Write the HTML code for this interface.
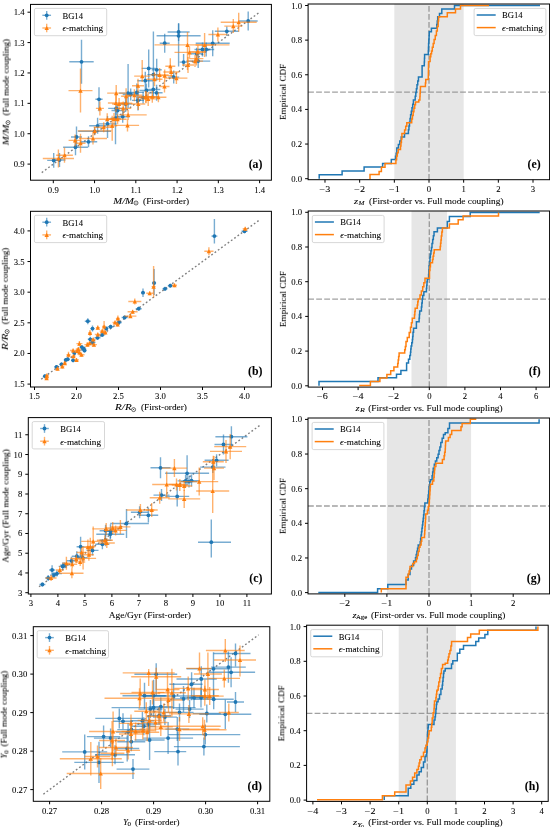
<!DOCTYPE html><html><head><meta charset="utf-8"><style>html,body{margin:0;padding:0;background:#fff;}svg{display:block;filter:blur(0.3px);}text:not([transform]){will-change:opacity;}text{stroke:#000;stroke-width:0.07px;}text[transform]{filter:url(#gs);}</style></head><body>
<svg width="550" height="827" viewBox="0 0 550 827" font-family='"Liberation Serif", serif' font-size="8.7">
<rect width="550" height="827" fill="#fff"/>
<filter id="gs" x="-20%" y="-20%" width="140%" height="140%"><feOffset dx="0" dy="0"/></filter>
<clipPath id="cpa"><rect x="30.5" y="4.4" width="240.9" height="175.8"/></clipPath>
<g clip-path="url(#cpa)">
<path d="M41.75 172.61L259.6 12.2" stroke="#808080" stroke-width="1.4" stroke-dasharray="1.8 2.25" fill="none"/>
<g stroke="#1f77b4" stroke-opacity="0.6" stroke-width="1.4" fill="none"><path d="M47.2 160.4h13"/><path d="M53.7 153.1v14.6"/><path d="M53.5 160h12"/><path d="M59.5 153v14"/><path d="M63.1 147.2h24.8"/><path d="M75.5 139.2v16"/><path d="M71 137h11"/><path d="M76.5 126.5v21"/><path d="M79.8 141.8h17.4"/><path d="M88.5 136.3v11"/><path d="M89.2 125.8h16.8"/><path d="M97.6 117.8v16"/><path d="M98.5 123.9h18"/><path d="M107.5 115.9v22"/><path d="M110.5 118.2h10"/><path d="M115.5 107.2v37"/><path d="M95.4 99.3h7.2"/><path d="M99 87.3v24"/><path d="M108.2 108.4h16"/><path d="M116.2 101.4v14"/><path d="M111.5 110.5h12"/><path d="M117.5 104.5v12"/><path d="M115.7 116.7h14"/><path d="M122.7 110.7v12"/><path d="M119.6 104h12"/><path d="M125.6 96v16"/><path d="M119.1 93.1h18"/><path d="M128.1 64.1v44"/><path d="M122.7 94.5h16"/><path d="M130.7 88.5v12"/><path d="M129.8 92.4h14"/><path d="M136.8 83.4v18"/><path d="M132 100.4h12"/><path d="M138 90.4v20"/><path d="M137.3 80.7h16"/><path d="M145.3 71.7v18"/><path d="M139.4 90.5h14"/><path d="M146.4 83.5v14"/><path d="M146.3 89.5h14"/><path d="M153.3 81.5v16"/><path d="M150.6 92.8h12"/><path d="M156.6 84.8v16"/><path d="M138.1 97.5h10"/><path d="M143.1 91.5v12"/><path d="M141.7 68.4h14"/><path d="M148.7 49.4v38"/><path d="M151.7 69.8h10"/><path d="M156.7 58.8v22"/><path d="M147.4 74.6h12"/><path d="M153.4 31.6v49"/><path d="M159.7 43.2h10"/><path d="M164.7 33.7v19"/><path d="M168.2 77.1h11"/><path d="M173.7 70.6v13"/><path d="M179.6 62.1h8"/><path d="M183.6 54.1v12.5"/><path d="M186.2 61.1h24"/><path d="M198.2 54.1v14"/><path d="M194.5 49.5h16"/><path d="M202.5 42.5v14"/><path d="M198.2 49.5h16"/><path d="M206.2 42.5v14"/><path d="M195.7 43.3h34"/><path d="M212.7 30.3v26"/><path d="M190.7 53.8h12"/><path d="M196.7 47.8v12"/><path d="M214.8 31.3h24"/><path d="M226.8 26.6v9.4"/><path d="M238.7 21h19"/><path d="M248.2 11.5v19"/><path d="M69.3 61.8h24.4"/><path d="M81.5 39.8v44"/><path d="M78.2 131.3h32.8"/><path d="M94.6 127.3v8"/><path d="M167.6 32h22"/><path d="M178.6 23v18"/><path d="M156.6 35.8h44"/><path d="M178.6 23.8v42.7"/></g>
<g fill="#1f77b4"><circle cx="53.7" cy="160.4" r="1.9"/><circle cx="59.5" cy="160" r="1.9"/><circle cx="75.5" cy="147.2" r="1.9"/><circle cx="76.5" cy="137" r="1.9"/><circle cx="88.5" cy="141.8" r="1.9"/><circle cx="97.6" cy="125.8" r="1.9"/><circle cx="107.5" cy="123.9" r="1.9"/><circle cx="115.5" cy="118.2" r="1.9"/><circle cx="99" cy="99.3" r="1.9"/><circle cx="116.2" cy="108.4" r="1.9"/><circle cx="117.5" cy="110.5" r="1.9"/><circle cx="122.7" cy="116.7" r="1.9"/><circle cx="125.6" cy="104" r="1.9"/><circle cx="128.1" cy="93.1" r="1.9"/><circle cx="130.7" cy="94.5" r="1.9"/><circle cx="136.8" cy="92.4" r="1.9"/><circle cx="138" cy="100.4" r="1.9"/><circle cx="145.3" cy="80.7" r="1.9"/><circle cx="146.4" cy="90.5" r="1.9"/><circle cx="153.3" cy="89.5" r="1.9"/><circle cx="156.6" cy="92.8" r="1.9"/><circle cx="143.1" cy="97.5" r="1.9"/><circle cx="148.7" cy="68.4" r="1.9"/><circle cx="156.7" cy="69.8" r="1.9"/><circle cx="153.4" cy="74.6" r="1.9"/><circle cx="164.7" cy="43.2" r="1.9"/><circle cx="173.7" cy="77.1" r="1.9"/><circle cx="183.6" cy="62.1" r="1.9"/><circle cx="198.2" cy="61.1" r="1.9"/><circle cx="202.5" cy="49.5" r="1.9"/><circle cx="206.2" cy="49.5" r="1.9"/><circle cx="212.7" cy="43.3" r="1.9"/><circle cx="196.7" cy="53.8" r="1.9"/><circle cx="226.8" cy="31.3" r="1.9"/><circle cx="248.2" cy="21" r="1.9"/><circle cx="81.5" cy="61.8" r="1.9"/><circle cx="94.6" cy="131.3" r="1.9"/><circle cx="178.6" cy="32" r="1.9"/><circle cx="178.6" cy="35.8" r="1.9"/></g>
<g stroke="#ff7f0e" stroke-opacity="0.6" stroke-width="1.4" fill="none"><path d="M42.8 158.5h31.2"/><path d="M58.4 149.5v18"/><path d="M56.1 155.2h16.8"/><path d="M64.5 147.6v15.2"/><path d="M68.6 140.4h13"/><path d="M75.1 134.4v12"/><path d="M75.5 143.3h10"/><path d="M80.5 133.8v19"/><path d="M79 138.5h28"/><path d="M93 132.5v12"/><path d="M77.7 130.9h34"/><path d="M94.7 126.9v8"/><path d="M93.7 127.3h20"/><path d="M103.7 122.3v10"/><path d="M107.2 125.8h10"/><path d="M112.2 115.8v25"/><path d="M68.5 90.6h24"/><path d="M80.5 68.6v44"/><path d="M95.9 108.4h8"/><path d="M99.9 101.4v14"/><path d="M99.2 119.3h16"/><path d="M107.2 113.3v8"/><path d="M107 119h14"/><path d="M114 113v12"/><path d="M108.6 119.3h18"/><path d="M117.6 114.3v10"/><path d="M107.2 93.1h18"/><path d="M116.2 85.1v16"/><path d="M107.9 103h16"/><path d="M115.9 94v18"/><path d="M112.1 104h14"/><path d="M119.1 98v12"/><path d="M115.2 108.4h16"/><path d="M123.2 101.4v14"/><path d="M119.1 114.9h27.6"/><path d="M128.1 109.9v10"/><path d="M115.9 125.4h23.2"/><path d="M127.5 119.4v12"/><path d="M121.1 96.3h10"/><path d="M126.1 88.3v16"/><path d="M120.4 103.3h12"/><path d="M126.4 96.3v14"/><path d="M126.4 95.3h16"/><path d="M134.4 89.3v12"/><path d="M132 85.8h12"/><path d="M138 78.8v14"/><path d="M131.3 104h14"/><path d="M138.3 98v12"/><path d="M137 97.2h18"/><path d="M146 91.2v12"/><path d="M140.2 98.9h16"/><path d="M148.2 91.9v14"/><path d="M145.3 96.7h14"/><path d="M152.3 90.7v12"/><path d="M150.4 97.2h16"/><path d="M158.4 92.2v10"/><path d="M159.5 86.5h10"/><path d="M164.5 80.5v12"/><path d="M154.5 44.9h75"/><path d="M187.5 31.9v38"/><path d="M174.5 52.4h30"/><path d="M189.5 46.4v12"/><path d="M189.9 51.6h16"/><path d="M197.9 45.6v12"/><path d="M189.4 58.6h14"/><path d="M196.4 51.6v14"/><path d="M187 61.1h16"/><path d="M195 55.1v12"/><path d="M182 65h12"/><path d="M188 57v16"/><path d="M165.3 66.2h10"/><path d="M170.3 58.2v16"/><path d="M163.3 72h16"/><path d="M171.3 67v10"/><path d="M165.4 78.1h22"/><path d="M176.4 72.1v12"/><path d="M156.7 75.6h16"/><path d="M164.7 69.6v12"/><path d="M150.6 74.9h18"/><path d="M159.6 67.9v14"/><path d="M134.2 76.1h16"/><path d="M142.2 60.1v22"/><path d="M146.5 79.3h16"/><path d="M154.5 72.3v14"/><path d="M138.8 96.7h14"/><path d="M145.8 90.7v12"/><path d="M220.7 22.2h36"/><path d="M238.7 12.7v19"/><path d="M224.3 26.1h18"/><path d="M233.3 19.1v14"/><path d="M208.4 34.5h19"/><path d="M217.9 27.5v14"/><path d="M195.6 45h18"/><path d="M204.6 33v24"/></g>
<g fill="#ff7f0e"><path d="M58.4 156.45l2.2 4.1h-4.4z"/><path d="M64.5 153.15l2.2 4.1h-4.4z"/><path d="M75.1 138.35l2.2 4.1h-4.4z"/><path d="M80.5 141.25l2.2 4.1h-4.4z"/><path d="M93 136.45l2.2 4.1h-4.4z"/><path d="M94.7 128.85l2.2 4.1h-4.4z"/><path d="M103.7 125.25l2.2 4.1h-4.4z"/><path d="M112.2 123.75l2.2 4.1h-4.4z"/><path d="M80.5 88.55l2.2 4.1h-4.4z"/><path d="M99.9 106.35l2.2 4.1h-4.4z"/><path d="M107.2 117.25l2.2 4.1h-4.4z"/><path d="M114 116.95l2.2 4.1h-4.4z"/><path d="M117.6 117.25l2.2 4.1h-4.4z"/><path d="M116.2 91.05l2.2 4.1h-4.4z"/><path d="M115.9 100.95l2.2 4.1h-4.4z"/><path d="M119.1 101.95l2.2 4.1h-4.4z"/><path d="M123.2 106.35l2.2 4.1h-4.4z"/><path d="M128.1 112.85l2.2 4.1h-4.4z"/><path d="M127.5 123.35l2.2 4.1h-4.4z"/><path d="M126.1 94.25l2.2 4.1h-4.4z"/><path d="M126.4 101.25l2.2 4.1h-4.4z"/><path d="M134.4 93.25l2.2 4.1h-4.4z"/><path d="M138 83.75l2.2 4.1h-4.4z"/><path d="M138.3 101.95l2.2 4.1h-4.4z"/><path d="M146 95.15l2.2 4.1h-4.4z"/><path d="M148.2 96.85l2.2 4.1h-4.4z"/><path d="M152.3 94.65l2.2 4.1h-4.4z"/><path d="M158.4 95.15l2.2 4.1h-4.4z"/><path d="M164.5 84.45l2.2 4.1h-4.4z"/><path d="M187.5 42.85l2.2 4.1h-4.4z"/><path d="M189.5 50.35l2.2 4.1h-4.4z"/><path d="M197.9 49.55l2.2 4.1h-4.4z"/><path d="M196.4 56.55l2.2 4.1h-4.4z"/><path d="M195 59.05l2.2 4.1h-4.4z"/><path d="M188 62.95l2.2 4.1h-4.4z"/><path d="M170.3 64.15l2.2 4.1h-4.4z"/><path d="M171.3 69.95l2.2 4.1h-4.4z"/><path d="M176.4 76.05l2.2 4.1h-4.4z"/><path d="M164.7 73.55l2.2 4.1h-4.4z"/><path d="M159.6 72.85l2.2 4.1h-4.4z"/><path d="M142.2 74.05l2.2 4.1h-4.4z"/><path d="M154.5 77.25l2.2 4.1h-4.4z"/><path d="M145.8 94.65l2.2 4.1h-4.4z"/><path d="M238.7 20.15l2.2 4.1h-4.4z"/><path d="M233.3 24.05l2.2 4.1h-4.4z"/><path d="M217.9 32.45l2.2 4.1h-4.4z"/><path d="M204.6 42.95l2.2 4.1h-4.4z"/></g>
</g>
<rect x="30.5" y="4.4" width="240.9" height="175.8" fill="none" stroke="#000" stroke-width="1.0"/>
<path d="M53.3 180.2v3M94.56 180.2v3M135.82 180.2v3M177.08 180.2v3M218.34 180.2v3M259.6 180.2v3M30.5 164.1h-3M30.5 133.72h-3M30.5 103.34h-3M30.5 72.96h-3M30.5 42.58h-3M30.5 12.2h-3" stroke="#000" stroke-width="1.0" fill="none"/>
<g><text x="53.3" y="192.5" text-anchor="middle">0.9</text><text x="94.56" y="192.5" text-anchor="middle">1.0</text><text x="135.82" y="192.5" text-anchor="middle">1.1</text><text x="177.08" y="192.5" text-anchor="middle">1.2</text><text x="218.34" y="192.5" text-anchor="middle">1.3</text><text x="259.6" y="192.5" text-anchor="middle">1.4</text><text x="24.5" y="167.1" text-anchor="end">0.9</text><text x="24.5" y="136.72" text-anchor="end">1.0</text><text x="24.5" y="106.34" text-anchor="end">1.1</text><text x="24.5" y="75.96" text-anchor="end">1.2</text><text x="24.5" y="45.58" text-anchor="end">1.3</text><text x="24.5" y="15.2" text-anchor="end">1.4</text></g>
<rect x="34.4" y="8.4" width="72.3" height="27.3" rx="1.6" fill="#fff" fill-opacity="0.8" stroke="#d0d0d0" stroke-width="0.85"/>
<path d="M42.35 15.3h8.7" stroke="#1f77b4" stroke-opacity="0.6" stroke-width="1.4"/>
<path d="M46.7 10.95v8.7" stroke="#1f77b4" stroke-opacity="0.6" stroke-width="1.4"/>
<circle cx="46.7" cy="15.3" r="1.9" fill="#1f77b4"/>
<path d="M42.35 28h8.7" stroke="#ff7f0e" stroke-opacity="0.6" stroke-width="1.4"/>
<path d="M46.7 23.65v8.7" stroke="#ff7f0e" stroke-opacity="0.6" stroke-width="1.4"/>
<path d="M46.7 25.95l2.2 4.1h-4.4z" fill="#ff7f0e"/>
<text x="62.4" y="18.7" textLength="20.6" lengthAdjust="spacingAndGlyphs">BG14</text>
<text x="62.4" y="31.4" textLength="40.8" lengthAdjust="spacingAndGlyphs"><tspan font-style="italic">ϵ</tspan>-matching</text>
<text x="262.4" y="168.3" text-anchor="end" font-weight="bold" font-size="11.8">(a)</text>
<clipPath id="cpb"><rect x="30.5" y="211.3" width="240.9" height="175.7"/></clipPath>
<g clip-path="url(#cpb)">
<path d="M41.22 379.2L260.46 219.26" stroke="#808080" stroke-width="1.4" stroke-dasharray="1.8 2.25" fill="none"/>
<g stroke="#1f77b4" stroke-opacity="0.6" stroke-width="1.4" fill="none"><path d="M42.9 376.2h4"/><path d="M44.9 374.2v4"/><path d="M54 366.9h5"/><path d="M56.5 364.9v4"/><path d="M59.5 364.3h4"/><path d="M61.5 362.3v4"/><path d="M63.8 359.9h4"/><path d="M65.8 357.9v4"/><path d="M65.7 359.2h4"/><path d="M67.7 357.2v4"/><path d="M71.1 360.3h4"/><path d="M73.1 358.3v4"/><path d="M72.3 352.9h4"/><path d="M74.3 350.9v4"/><path d="M79.3 347.1h5"/><path d="M81.8 345.1v4"/><path d="M81.2 349h5"/><path d="M83.7 347v4"/><path d="M82.5 350.5h4"/><path d="M84.5 348.5v4"/><path d="M89.5 342.5h6"/><path d="M92.5 340.5v4"/><path d="M87.8 339.3h5"/><path d="M90.3 336.8v5"/><path d="M90.5 328.6h4"/><path d="M92.5 325.6v6"/><path d="M94.5 337.8h6"/><path d="M97.5 335.8v4"/><path d="M99.2 334.9h6"/><path d="M102.2 332.9v4"/><path d="M104.3 328.6h4"/><path d="M106.3 326.6v4"/><path d="M107.6 326.7h6"/><path d="M110.6 324.7v4"/><path d="M115.8 322.5h6"/><path d="M118.8 320v5"/><path d="M121.6 317.5h6"/><path d="M124.6 315.5v4"/><path d="M135.7 308.7h6"/><path d="M138.7 306.7v4"/><path d="M141 292.7h4"/><path d="M143 288.4v8.6"/><path d="M152.1 283h4"/><path d="M154.1 269.1v25.9"/><path d="M162.5 288.8h5"/><path d="M165 286.8v4"/><path d="M167.8 285.7h5"/><path d="M170.3 283.7v4"/><path d="M211.4 236.1h6"/><path d="M214.4 219.1v24.4"/><path d="M241.5 231.3h6"/><path d="M244.5 229.3v4"/><path d="M84.8 321.2h6"/><path d="M87.8 318.2v6"/></g>
<g fill="#1f77b4"><circle cx="44.9" cy="376.2" r="1.9"/><circle cx="56.5" cy="366.9" r="1.9"/><circle cx="61.5" cy="364.3" r="1.9"/><circle cx="65.8" cy="359.9" r="1.9"/><circle cx="67.7" cy="359.2" r="1.9"/><circle cx="73.1" cy="360.3" r="1.9"/><circle cx="74.3" cy="352.9" r="1.9"/><circle cx="81.8" cy="347.1" r="1.9"/><circle cx="83.7" cy="349" r="1.9"/><circle cx="84.5" cy="350.5" r="1.9"/><circle cx="92.5" cy="342.5" r="1.9"/><circle cx="90.3" cy="339.3" r="1.9"/><circle cx="92.5" cy="328.6" r="1.9"/><circle cx="97.5" cy="337.8" r="1.9"/><circle cx="102.2" cy="334.9" r="1.9"/><circle cx="106.3" cy="328.6" r="1.9"/><circle cx="110.6" cy="326.7" r="1.9"/><circle cx="118.8" cy="322.5" r="1.9"/><circle cx="124.6" cy="317.5" r="1.9"/><circle cx="138.7" cy="308.7" r="1.9"/><circle cx="143" cy="292.7" r="1.9"/><circle cx="154.1" cy="283" r="1.9"/><circle cx="165" cy="288.8" r="1.9"/><circle cx="170.3" cy="285.7" r="1.9"/><circle cx="214.4" cy="236.1" r="1.9"/><circle cx="244.5" cy="231.3" r="1.9"/><circle cx="87.8" cy="321.2" r="1.9"/></g>
<g stroke="#ff7f0e" stroke-opacity="0.6" stroke-width="1.4" fill="none"><path d="M44.9 375.6h4"/><path d="M46.9 373.6v4"/><path d="M44.6 378.1h4"/><path d="M46.6 376.1v4"/><path d="M55.5 368.6h4"/><path d="M57.5 366.6v4"/><path d="M60.3 366.5h4"/><path d="M62.3 364.5v4"/><path d="M62.8 363.1h4"/><path d="M64.8 361.1v4"/><path d="M66.5 354.8h4"/><path d="M68.5 351.8v6"/><path d="M74 359.9h5"/><path d="M76.5 357.9v4"/><path d="M71.5 356.3h4"/><path d="M73.5 354.3v4"/><path d="M70.1 350.5h6"/><path d="M73.1 348.5v4"/><path d="M75.8 349h5"/><path d="M78.3 347v4"/><path d="M78.5 354.8h6"/><path d="M81.5 352.8v4"/><path d="M76.4 343.6h6"/><path d="M79.4 341.1v5"/><path d="M84.4 344.6h6"/><path d="M87.4 342.6v4"/><path d="M86.5 343.2h6"/><path d="M89.5 341.2v4"/><path d="M90.9 344.6h6"/><path d="M93.9 342.6v4"/><path d="M88 333h4"/><path d="M90 330v6"/><path d="M90.7 339.5h5"/><path d="M93.2 337.5v4"/><path d="M94.8 334.5h6"/><path d="M97.8 332.5v4"/><path d="M95.8 327.6h4"/><path d="M97.8 325.6v4"/><path d="M99.7 331.1h5"/><path d="M102.2 329.1v4"/><path d="M102.1 326.5h4"/><path d="M104.1 321v11"/><path d="M103.3 332.4h4"/><path d="M105.3 330.4v4"/><path d="M112.5 322.5h5"/><path d="M115 320.5v4"/><path d="M115.6 324.4h4"/><path d="M117.6 322.4v4"/><path d="M115.9 318.5h4"/><path d="M117.9 315.5v6"/><path d="M124.4 316.1h12"/><path d="M130.4 314.1v4"/><path d="M127.6 311.7h10"/><path d="M132.6 309.7v4"/><path d="M128.3 301.5h13"/><path d="M134.8 298.5v6"/><path d="M146.3 293.2h6.8"/><path d="M149.7 291.2v4"/><path d="M151.6 286.6h4"/><path d="M153.6 265.9v31.7"/><path d="M172 285.2h5"/><path d="M174.5 283.2v4"/><path d="M204.3 251.3h9.2"/><path d="M208.9 247.3v8"/><path d="M75.2 351h4"/><path d="M77.2 349v4"/><path d="M77.5 352.5h4"/><path d="M79.5 350.5v4"/><path d="M242.7 228.7h5"/><path d="M245.2 226.7v4"/></g>
<g fill="#ff7f0e"><path d="M46.9 373.55l2.2 4.1h-4.4z"/><path d="M46.6 376.05l2.2 4.1h-4.4z"/><path d="M57.5 366.55l2.2 4.1h-4.4z"/><path d="M62.3 364.45l2.2 4.1h-4.4z"/><path d="M64.8 361.05l2.2 4.1h-4.4z"/><path d="M68.5 352.75l2.2 4.1h-4.4z"/><path d="M76.5 357.85l2.2 4.1h-4.4z"/><path d="M73.5 354.25l2.2 4.1h-4.4z"/><path d="M73.1 348.45l2.2 4.1h-4.4z"/><path d="M78.3 346.95l2.2 4.1h-4.4z"/><path d="M81.5 352.75l2.2 4.1h-4.4z"/><path d="M79.4 341.55l2.2 4.1h-4.4z"/><path d="M87.4 342.55l2.2 4.1h-4.4z"/><path d="M89.5 341.15l2.2 4.1h-4.4z"/><path d="M93.9 342.55l2.2 4.1h-4.4z"/><path d="M90 330.95l2.2 4.1h-4.4z"/><path d="M93.2 337.45l2.2 4.1h-4.4z"/><path d="M97.8 332.45l2.2 4.1h-4.4z"/><path d="M97.8 325.55l2.2 4.1h-4.4z"/><path d="M102.2 329.05l2.2 4.1h-4.4z"/><path d="M104.1 324.45l2.2 4.1h-4.4z"/><path d="M105.3 330.35l2.2 4.1h-4.4z"/><path d="M115 320.45l2.2 4.1h-4.4z"/><path d="M117.6 322.35l2.2 4.1h-4.4z"/><path d="M117.9 316.45l2.2 4.1h-4.4z"/><path d="M130.4 314.05l2.2 4.1h-4.4z"/><path d="M132.6 309.65l2.2 4.1h-4.4z"/><path d="M134.8 299.45l2.2 4.1h-4.4z"/><path d="M149.7 291.15l2.2 4.1h-4.4z"/><path d="M153.6 284.55l2.2 4.1h-4.4z"/><path d="M174.5 283.15l2.2 4.1h-4.4z"/><path d="M208.9 249.25l2.2 4.1h-4.4z"/><path d="M77.2 348.95l2.2 4.1h-4.4z"/><path d="M79.5 350.45l2.2 4.1h-4.4z"/><path d="M245.2 226.65l2.2 4.1h-4.4z"/></g>
</g>
<rect x="30.5" y="211.3" width="240.9" height="175.7" fill="none" stroke="#000" stroke-width="1.0"/>
<path d="M34.5 387v3M76.5 387v3M118.5 387v3M160.5 387v3M202.5 387v3M244.5 387v3M30.5 384.1h-3M30.5 353.46h-3M30.5 322.82h-3M30.5 292.18h-3M30.5 261.54h-3M30.5 230.9h-3" stroke="#000" stroke-width="1.0" fill="none"/>
<g><text x="34.5" y="399.3" text-anchor="middle">1.5</text><text x="76.5" y="399.3" text-anchor="middle">2.0</text><text x="118.5" y="399.3" text-anchor="middle">2.5</text><text x="160.5" y="399.3" text-anchor="middle">3.0</text><text x="202.5" y="399.3" text-anchor="middle">3.5</text><text x="244.5" y="399.3" text-anchor="middle">4.0</text><text x="24.5" y="387.1" text-anchor="end">1.5</text><text x="24.5" y="356.46" text-anchor="end">2.0</text><text x="24.5" y="325.82" text-anchor="end">2.5</text><text x="24.5" y="295.18" text-anchor="end">3.0</text><text x="24.5" y="264.54" text-anchor="end">3.5</text><text x="24.5" y="233.9" text-anchor="end">4.0</text></g>
<rect x="34.4" y="215.3" width="72.3" height="27.3" rx="1.6" fill="#fff" fill-opacity="0.8" stroke="#d0d0d0" stroke-width="0.85"/>
<path d="M42.35 222.2h8.7" stroke="#1f77b4" stroke-opacity="0.6" stroke-width="1.4"/>
<path d="M46.7 217.85v8.7" stroke="#1f77b4" stroke-opacity="0.6" stroke-width="1.4"/>
<circle cx="46.7" cy="222.2" r="1.9" fill="#1f77b4"/>
<path d="M42.35 234.9h8.7" stroke="#ff7f0e" stroke-opacity="0.6" stroke-width="1.4"/>
<path d="M46.7 230.55v8.7" stroke="#ff7f0e" stroke-opacity="0.6" stroke-width="1.4"/>
<path d="M46.7 232.85l2.2 4.1h-4.4z" fill="#ff7f0e"/>
<text x="62.4" y="225.6" textLength="20.6" lengthAdjust="spacingAndGlyphs">BG14</text>
<text x="62.4" y="238.3" textLength="40.8" lengthAdjust="spacingAndGlyphs"><tspan font-style="italic">ϵ</tspan>-matching</text>
<text x="262.4" y="375.1" text-anchor="end" font-weight="bold" font-size="11.8">(b)</text>
<clipPath id="cpc"><rect x="28.3" y="417.6" width="243.1" height="176.4"/></clipPath>
<g clip-path="url(#cpc)">
<path d="M39 586.78L260.4 424.91" stroke="#808080" stroke-width="1.4" stroke-dasharray="1.8 2.25" fill="none"/>
<g stroke="#1f77b4" stroke-opacity="0.6" stroke-width="1.4" fill="none"><path d="M39.4 584.5h6"/><path d="M42.4 582.5v4"/><path d="M45.2 578h6"/><path d="M48.2 575v6"/><path d="M49.1 570h6"/><path d="M52.1 565.3v9.4"/><path d="M50 575.1h8"/><path d="M54 572.1v6"/><path d="M51.9 573.6h10"/><path d="M56.9 570.6v6"/><path d="M58.7 566.4h8"/><path d="M62.7 562.4v8"/><path d="M60.2 565.3h8"/><path d="M64.2 562.3v6"/><path d="M66.5 560.8h10"/><path d="M71.5 556.8v8"/><path d="M71.8 556.2h10"/><path d="M76.8 551.2v10"/><path d="M76.6 546.7h8"/><path d="M80.6 536.7v20"/><path d="M77.7 557.6h10"/><path d="M82.7 553.6v8"/><path d="M86.5 550.4h12"/><path d="M92.5 545.4v10"/><path d="M95.4 544.3h14"/><path d="M102.4 539.3v10"/><path d="M99.6 530.7h12"/><path d="M105.6 524.7v12"/><path d="M104.5 531.3h12"/><path d="M110.5 524.3v14"/><path d="M96.3 534.2h28"/><path d="M110.3 529.2v10"/><path d="M99.5 540.3h12"/><path d="M105.5 534.3v12"/><path d="M110.2 523.5h38.7"/><path d="M126.5 509v29"/><path d="M130.9 512.3h17.4"/><path d="M139.6 506.3v12"/><path d="M138.6 515.3h19.6"/><path d="M148.4 508v14.6"/><path d="M150.5 467.8h20"/><path d="M160.5 457.3v21"/><path d="M165.1 473.3h44"/><path d="M187.1 455.3v30"/><path d="M177.6 480.9h16"/><path d="M185.6 474.9v12"/><path d="M181 481.6h16"/><path d="M189 475.6v12"/><path d="M183.5 480.6h16"/><path d="M191.5 474.6v12"/><path d="M200.1 467.1h25.4"/><path d="M212.8 461.1v12"/><path d="M204.6 460.3h24"/><path d="M216.6 454.3v12"/><path d="M214.5 444.5h18"/><path d="M223.5 434.5v20"/><path d="M215.4 436.7h32"/><path d="M231.4 426.2v21"/><path d="M198 542.2h33"/><path d="M211.3 519.5v38"/><path d="M165.2 496.4h24"/><path d="M177.2 486.4v20"/><path d="M153.5 495.1h16"/><path d="M161.5 489.1v12"/></g>
<g fill="#1f77b4"><circle cx="42.4" cy="584.5" r="1.9"/><circle cx="48.2" cy="578" r="1.9"/><circle cx="52.1" cy="570" r="1.9"/><circle cx="54" cy="575.1" r="1.9"/><circle cx="56.9" cy="573.6" r="1.9"/><circle cx="62.7" cy="566.4" r="1.9"/><circle cx="64.2" cy="565.3" r="1.9"/><circle cx="71.5" cy="560.8" r="1.9"/><circle cx="76.8" cy="556.2" r="1.9"/><circle cx="80.6" cy="546.7" r="1.9"/><circle cx="82.7" cy="557.6" r="1.9"/><circle cx="92.5" cy="550.4" r="1.9"/><circle cx="102.4" cy="544.3" r="1.9"/><circle cx="105.6" cy="530.7" r="1.9"/><circle cx="110.5" cy="531.3" r="1.9"/><circle cx="110.3" cy="534.2" r="1.9"/><circle cx="105.5" cy="540.3" r="1.9"/><circle cx="126.5" cy="523.5" r="1.9"/><circle cx="139.6" cy="512.3" r="1.9"/><circle cx="148.4" cy="515.3" r="1.9"/><circle cx="160.5" cy="467.8" r="1.9"/><circle cx="187.1" cy="473.3" r="1.9"/><circle cx="185.6" cy="480.9" r="1.9"/><circle cx="189" cy="481.6" r="1.9"/><circle cx="191.5" cy="480.6" r="1.9"/><circle cx="212.8" cy="467.1" r="1.9"/><circle cx="216.6" cy="460.3" r="1.9"/><circle cx="223.5" cy="444.5" r="1.9"/><circle cx="231.4" cy="436.7" r="1.9"/><circle cx="211.3" cy="542.2" r="1.9"/><circle cx="177.2" cy="496.4" r="1.9"/><circle cx="161.5" cy="495.1" r="1.9"/></g>
<g stroke="#ff7f0e" stroke-opacity="0.6" stroke-width="1.4" fill="none"><path d="M45.6 578h11"/><path d="M51.1 575v6"/><path d="M55.8 570h8"/><path d="M59.8 566v8"/><path d="M62.4 563.2h8"/><path d="M66.4 556.7v13"/><path d="M60.3 573.3h23.2"/><path d="M71.9 568.3v10"/><path d="M67.2 564.2h10"/><path d="M72.2 560.2v8"/><path d="M71.3 559.1h10"/><path d="M76.3 555.1v8"/><path d="M75.2 562h10"/><path d="M80.2 558v8"/><path d="M70.1 558.4h26"/><path d="M83.1 547.4v22"/><path d="M76.6 552.5h10"/><path d="M81.6 547.5v10"/><path d="M81.9 547.2h12"/><path d="M87.9 539.6v15.2"/><path d="M81.2 541.4h24"/><path d="M93.2 526.4v23"/><path d="M85.3 546.7h10"/><path d="M90.3 537.7v18"/><path d="M83.9 554.7h10"/><path d="M88.9 548.7v12"/><path d="M96.9 540.2h16"/><path d="M104.9 535.2v10"/><path d="M98.8 543h16"/><path d="M106.8 538v10"/><path d="M92.4 528.9h27.6"/><path d="M106.2 522.9v12"/><path d="M104.7 527.9h16"/><path d="M112.7 521.9v12"/><path d="M104.6 530.4h22"/><path d="M115.6 525.4v10"/><path d="M110.4 526.9h20"/><path d="M120.4 519.9v14"/><path d="M126.4 510h28"/><path d="M140.4 504v12"/><path d="M145.7 510h12"/><path d="M151.7 503v14"/><path d="M149.7 497.8h20"/><path d="M159.7 491.8v12"/><path d="M152.2 484.5h29"/><path d="M166.7 471.5v26"/><path d="M161.7 468.1h25.4"/><path d="M174.4 459.1v18"/><path d="M168.5 484.5h16"/><path d="M176.5 478.5v12"/><path d="M171.8 485h16"/><path d="M179.8 479v12"/><path d="M176.2 486h16"/><path d="M184.2 481v10"/><path d="M180.2 481.6h38"/><path d="M199.2 467.6v28"/><path d="M196.2 491h33"/><path d="M212.7 469v44"/><path d="M202.8 461.7h21"/><path d="M213.3 455.7v12"/><path d="M204 468.1h20"/><path d="M214 456.1v24"/><path d="M210 451.4h32"/><path d="M226 439.9v23"/><path d="M214.2 446.6h32"/><path d="M230.2 433.9v25.4"/><path d="M168.2 498.9h32"/><path d="M184.2 489.9v18"/></g>
<g fill="#ff7f0e"><path d="M51.1 575.95l2.2 4.1h-4.4z"/><path d="M59.8 567.95l2.2 4.1h-4.4z"/><path d="M66.4 561.15l2.2 4.1h-4.4z"/><path d="M71.9 571.25l2.2 4.1h-4.4z"/><path d="M72.2 562.15l2.2 4.1h-4.4z"/><path d="M76.3 557.05l2.2 4.1h-4.4z"/><path d="M80.2 559.95l2.2 4.1h-4.4z"/><path d="M83.1 556.35l2.2 4.1h-4.4z"/><path d="M81.6 550.45l2.2 4.1h-4.4z"/><path d="M87.9 545.15l2.2 4.1h-4.4z"/><path d="M93.2 539.35l2.2 4.1h-4.4z"/><path d="M90.3 544.65l2.2 4.1h-4.4z"/><path d="M88.9 552.65l2.2 4.1h-4.4z"/><path d="M104.9 538.15l2.2 4.1h-4.4z"/><path d="M106.8 540.95l2.2 4.1h-4.4z"/><path d="M106.2 526.85l2.2 4.1h-4.4z"/><path d="M112.7 525.85l2.2 4.1h-4.4z"/><path d="M115.6 528.35l2.2 4.1h-4.4z"/><path d="M120.4 524.85l2.2 4.1h-4.4z"/><path d="M140.4 507.95l2.2 4.1h-4.4z"/><path d="M151.7 507.95l2.2 4.1h-4.4z"/><path d="M159.7 495.75l2.2 4.1h-4.4z"/><path d="M166.7 482.45l2.2 4.1h-4.4z"/><path d="M174.4 466.05l2.2 4.1h-4.4z"/><path d="M176.5 482.45l2.2 4.1h-4.4z"/><path d="M179.8 482.95l2.2 4.1h-4.4z"/><path d="M184.2 483.95l2.2 4.1h-4.4z"/><path d="M199.2 479.55l2.2 4.1h-4.4z"/><path d="M212.7 488.95l2.2 4.1h-4.4z"/><path d="M213.3 459.65l2.2 4.1h-4.4z"/><path d="M214 466.05l2.2 4.1h-4.4z"/><path d="M226 449.35l2.2 4.1h-4.4z"/><path d="M230.2 444.55l2.2 4.1h-4.4z"/><path d="M184.2 496.85l2.2 4.1h-4.4z"/></g>
</g>
<rect x="28.3" y="417.6" width="243.1" height="176.4" fill="none" stroke="#000" stroke-width="1.0"/>
<path d="M30.9 594v3M57.9 594v3M84.9 594v3M111.9 594v3M138.9 594v3M165.9 594v3M192.9 594v3M219.9 594v3M246.9 594v3M28.3 592.7h-3M28.3 572.96h-3M28.3 553.22h-3M28.3 533.48h-3M28.3 513.74h-3M28.3 494h-3M28.3 474.26h-3M28.3 454.52h-3M28.3 434.78h-3" stroke="#000" stroke-width="1.0" fill="none"/>
<g><text x="30.9" y="606.3" text-anchor="middle">3</text><text x="57.9" y="606.3" text-anchor="middle">4</text><text x="84.9" y="606.3" text-anchor="middle">5</text><text x="111.9" y="606.3" text-anchor="middle">6</text><text x="138.9" y="606.3" text-anchor="middle">7</text><text x="165.9" y="606.3" text-anchor="middle">8</text><text x="192.9" y="606.3" text-anchor="middle">9</text><text x="219.9" y="606.3" text-anchor="middle">10</text><text x="246.9" y="606.3" text-anchor="middle">11</text><text x="22.3" y="595.7" text-anchor="end">3</text><text x="22.3" y="575.96" text-anchor="end">4</text><text x="22.3" y="556.22" text-anchor="end">5</text><text x="22.3" y="536.48" text-anchor="end">6</text><text x="22.3" y="516.74" text-anchor="end">7</text><text x="22.3" y="497" text-anchor="end">8</text><text x="22.3" y="477.26" text-anchor="end">9</text><text x="22.3" y="457.52" text-anchor="end">10</text><text x="22.3" y="437.78" text-anchor="end">11</text></g>
<rect x="32.2" y="421.6" width="72.3" height="27.3" rx="1.6" fill="#fff" fill-opacity="0.8" stroke="#d0d0d0" stroke-width="0.85"/>
<path d="M40.15 428.5h8.7" stroke="#1f77b4" stroke-opacity="0.6" stroke-width="1.4"/>
<path d="M44.5 424.15v8.7" stroke="#1f77b4" stroke-opacity="0.6" stroke-width="1.4"/>
<circle cx="44.5" cy="428.5" r="1.9" fill="#1f77b4"/>
<path d="M40.15 441.2h8.7" stroke="#ff7f0e" stroke-opacity="0.6" stroke-width="1.4"/>
<path d="M44.5 436.85v8.7" stroke="#ff7f0e" stroke-opacity="0.6" stroke-width="1.4"/>
<path d="M44.5 439.15l2.2 4.1h-4.4z" fill="#ff7f0e"/>
<text x="60.2" y="431.9" textLength="20.6" lengthAdjust="spacingAndGlyphs">BG14</text>
<text x="60.2" y="444.6" textLength="40.8" lengthAdjust="spacingAndGlyphs"><tspan font-style="italic">ϵ</tspan>-matching</text>
<text x="262.4" y="582.1" text-anchor="end" font-weight="bold" font-size="11.8">(c)</text>
<clipPath id="cpd"><rect x="33.3" y="626.7" width="236.5" height="174.6"/></clipPath>
<g clip-path="url(#cpd)">
<path d="M43.36 794.22L258.64 634.83" stroke="#808080" stroke-width="1.4" stroke-dasharray="1.8 2.25" fill="none"/>
<g stroke="#1f77b4" stroke-opacity="0.6" stroke-width="1.4" fill="none"><path d="M62.2 751.9h45"/><path d="M84.7 734.4v35"/><path d="M74.3 762.4h49.4"/><path d="M99 741.7v41.4"/><path d="M86.9 736.6h33.4"/><path d="M103.6 725.6v22"/><path d="M93.9 738.1h33.4"/><path d="M110.6 728.6v19"/><path d="M95 754.8h40"/><path d="M115 745.3v19"/><path d="M95.3 718.4h48"/><path d="M119.3 708.4v20"/><path d="M113 721.3h20"/><path d="M123 713.3v16"/><path d="M115.2 748.5h24"/><path d="M127.2 735.5v26"/><path d="M116.1 732.1h24"/><path d="M128.1 723.1v18"/><path d="M117.3 729.6h28"/><path d="M131.3 720.6v18"/><path d="M117.3 741.7h28"/><path d="M131.3 732.2v19"/><path d="M116.6 769.1h32.8"/><path d="M133 759.1v20"/><path d="M134.4 674.2h42.8"/><path d="M156.2 663.2v32.6"/><path d="M176.5 679h40.3"/><path d="M201.3 666.2v33.8"/><path d="M169.3 684.2h33.3"/><path d="M191.6 672.2v28"/><path d="M122.5 695.7h44"/><path d="M144.5 682.7v26"/><path d="M141.6 695.7h24"/><path d="M153.6 679.7v32"/><path d="M143.6 696h60"/><path d="M173.6 683v26"/><path d="M171.5 698.9h24"/><path d="M183.5 685.9v26"/><path d="M180 697.7h28"/><path d="M194 687.7v20"/><path d="M187 697.5h28"/><path d="M201 687.5v20"/><path d="M138.4 709.1h24"/><path d="M150.4 700.1v18"/><path d="M111.6 707.6h84"/><path d="M153.6 698.6v18"/><path d="M148.8 706.6h24"/><path d="M160.8 697.6v18"/><path d="M175.6 709.1h28"/><path d="M189.6 700.1v18"/><path d="M165.5 712.4h28"/><path d="M179.5 703.4v18"/><path d="M192.8 713.5h28"/><path d="M206.8 704.5v18"/><path d="M147.1 715.6h24"/><path d="M159.1 707.6v16"/><path d="M152.9 717.1h24"/><path d="M164.9 709.1v16"/><path d="M213.5 653.5h37"/><path d="M235.5 643.5v23"/><path d="M211 667.1h34.8"/><path d="M228.4 651.4v31.4"/><path d="M207.1 672.3h48"/><path d="M231.1 657.3v30"/><path d="M186.5 668.8h44"/><path d="M213.5 652.3v47.5"/><path d="M193.7 699.3h40"/><path d="M213.7 689.3v20"/><path d="M227 702h17"/><path d="M235.5 692v20"/><path d="M154.3 751.6h31.9"/><path d="M178 731.6v34"/><path d="M143.1 738.1h50"/><path d="M168.1 722.1v32"/><path d="M134.6 740h30"/><path d="M149.6 725v35"/><path d="M165.3 729.1h24"/><path d="M177.3 717.1v24"/><path d="M173.9 746.6h66"/><path d="M203.9 737.6v18"/><path d="M168.3 734.6h72"/><path d="M205.3 724.6v20"/><path d="M130.4 720.7h24"/><path d="M142.4 711.7v18"/><path d="M131.8 726.2h24"/><path d="M143.8 717.2v18"/><path d="M136.6 724h24"/><path d="M148.6 715v18"/><path d="M199.3 714.3h52"/><path d="M225.3 699.7v29.2"/></g>
<g fill="#1f77b4"><circle cx="84.7" cy="751.9" r="1.9"/><circle cx="99" cy="762.4" r="1.9"/><circle cx="103.6" cy="736.6" r="1.9"/><circle cx="110.6" cy="738.1" r="1.9"/><circle cx="115" cy="754.8" r="1.9"/><circle cx="119.3" cy="718.4" r="1.9"/><circle cx="123" cy="721.3" r="1.9"/><circle cx="127.2" cy="748.5" r="1.9"/><circle cx="128.1" cy="732.1" r="1.9"/><circle cx="131.3" cy="729.6" r="1.9"/><circle cx="131.3" cy="741.7" r="1.9"/><circle cx="133" cy="769.1" r="1.9"/><circle cx="156.2" cy="674.2" r="1.9"/><circle cx="201.3" cy="679" r="1.9"/><circle cx="191.6" cy="684.2" r="1.9"/><circle cx="144.5" cy="695.7" r="1.9"/><circle cx="153.6" cy="695.7" r="1.9"/><circle cx="173.6" cy="696" r="1.9"/><circle cx="183.5" cy="698.9" r="1.9"/><circle cx="194" cy="697.7" r="1.9"/><circle cx="201" cy="697.5" r="1.9"/><circle cx="150.4" cy="709.1" r="1.9"/><circle cx="153.6" cy="707.6" r="1.9"/><circle cx="160.8" cy="706.6" r="1.9"/><circle cx="189.6" cy="709.1" r="1.9"/><circle cx="179.5" cy="712.4" r="1.9"/><circle cx="206.8" cy="713.5" r="1.9"/><circle cx="159.1" cy="715.6" r="1.9"/><circle cx="164.9" cy="717.1" r="1.9"/><circle cx="235.5" cy="653.5" r="1.9"/><circle cx="228.4" cy="667.1" r="1.9"/><circle cx="231.1" cy="672.3" r="1.9"/><circle cx="213.5" cy="668.8" r="1.9"/><circle cx="213.7" cy="699.3" r="1.9"/><circle cx="235.5" cy="702" r="1.9"/><circle cx="178" cy="751.6" r="1.9"/><circle cx="168.1" cy="738.1" r="1.9"/><circle cx="149.6" cy="740" r="1.9"/><circle cx="177.3" cy="729.1" r="1.9"/><circle cx="203.9" cy="746.6" r="1.9"/><circle cx="205.3" cy="734.6" r="1.9"/><circle cx="142.4" cy="720.7" r="1.9"/><circle cx="143.8" cy="726.2" r="1.9"/><circle cx="148.6" cy="724" r="1.9"/><circle cx="225.3" cy="714.3" r="1.9"/></g>
<g stroke="#ff7f0e" stroke-opacity="0.6" stroke-width="1.4" fill="none"><path d="M59.8 758.7h62"/><path d="M90.8 742v33.4"/><path d="M84.5 756.5h26"/><path d="M97.5 745.5v22"/><path d="M66.7 773.5h68"/><path d="M100.7 758v31"/><path d="M99.1 740.5h26"/><path d="M112.1 720.9v39.2"/><path d="M100.4 753.3h24"/><path d="M112.4 740.3v26"/><path d="M89.1 731.5h48"/><path d="M113.1 711.5v40"/><path d="M99 747.5h34"/><path d="M116 738.5v18"/><path d="M116.1 750.4h24"/><path d="M128.1 741.4v18"/><path d="M119 723.4h24"/><path d="M131 714.4v18"/><path d="M119 734h24"/><path d="M131 725v18"/><path d="M121.6 731.5h28"/><path d="M135.6 722.5v18"/><path d="M122.7 672.9h52"/><path d="M148.7 668.9v17"/><path d="M131.2 676.7h50"/><path d="M156.2 667.7v21.6"/><path d="M186.2 668.4h25.3"/><path d="M199.5 652.4v21"/><path d="M157.9 692.7h28"/><path d="M171.9 668.7v48"/><path d="M155.5 689.5h24"/><path d="M167.5 672.5v34"/><path d="M131.5 692.4h33"/><path d="M152.5 680.4v24"/><path d="M120.2 693.5h40"/><path d="M140.2 678.5v27"/><path d="M104.5 698.2h70"/><path d="M139.5 688.2v20"/><path d="M174.2 688.4h28"/><path d="M188.2 676.4v24"/><path d="M190.9 689.5h28"/><path d="M204.9 679.5v20"/><path d="M154.5 700h28"/><path d="M168.5 688v24"/><path d="M134.3 711.3h24"/><path d="M146.3 702.3v18"/><path d="M149.7 712.5h28"/><path d="M163.7 703.5v18"/><path d="M147.1 716.2h24"/><path d="M159.1 707.2v18"/><path d="M168.9 713.9h40"/><path d="M188.9 704.9v18"/><path d="M205.9 650.5h38.8"/><path d="M225.3 638.9v23.2"/><path d="M214 660h42"/><path d="M240 645.4v31.2"/><path d="M193.9 674h28"/><path d="M207.9 652.4v47.6"/><path d="M208.6 678.4h31.4"/><path d="M224.3 669.4v18"/><path d="M190.8 695.7h28"/><path d="M204.8 685.7v20"/><path d="M195.7 696.1h28"/><path d="M209.7 687.1v18"/><path d="M130.8 730.5h24"/><path d="M142.8 721.5v18"/><path d="M135.2 732.3h24"/><path d="M147.2 723.3v18"/><path d="M137.6 720.4h24"/><path d="M149.6 711.4v18"/><path d="M143.5 722.5h24"/><path d="M155.5 713.5v18"/><path d="M148.8 726.9h24"/><path d="M160.8 717.9v18"/><path d="M139.5 729.1h80"/><path d="M179.5 717.1v24"/><path d="M160.7 726.2h60"/><path d="M202.7 717.2v18"/><path d="M182.5 729.8h44"/><path d="M204.5 719.8v20"/><path d="M218.8 712.5h20"/><path d="M228.8 703.5v18"/></g>
<g fill="#ff7f0e"><path d="M90.8 756.65l2.2 4.1h-4.4z"/><path d="M97.5 754.45l2.2 4.1h-4.4z"/><path d="M100.7 771.45l2.2 4.1h-4.4z"/><path d="M112.1 738.45l2.2 4.1h-4.4z"/><path d="M112.4 751.25l2.2 4.1h-4.4z"/><path d="M113.1 729.45l2.2 4.1h-4.4z"/><path d="M116 745.45l2.2 4.1h-4.4z"/><path d="M128.1 748.35l2.2 4.1h-4.4z"/><path d="M131 721.35l2.2 4.1h-4.4z"/><path d="M131 731.95l2.2 4.1h-4.4z"/><path d="M135.6 729.45l2.2 4.1h-4.4z"/><path d="M148.7 670.85l2.2 4.1h-4.4z"/><path d="M156.2 674.65l2.2 4.1h-4.4z"/><path d="M199.5 666.35l2.2 4.1h-4.4z"/><path d="M171.9 690.65l2.2 4.1h-4.4z"/><path d="M167.5 687.45l2.2 4.1h-4.4z"/><path d="M152.5 690.35l2.2 4.1h-4.4z"/><path d="M140.2 691.45l2.2 4.1h-4.4z"/><path d="M139.5 696.15l2.2 4.1h-4.4z"/><path d="M188.2 686.35l2.2 4.1h-4.4z"/><path d="M204.9 687.45l2.2 4.1h-4.4z"/><path d="M168.5 697.95l2.2 4.1h-4.4z"/><path d="M146.3 709.25l2.2 4.1h-4.4z"/><path d="M163.7 710.45l2.2 4.1h-4.4z"/><path d="M159.1 714.15l2.2 4.1h-4.4z"/><path d="M188.9 711.85l2.2 4.1h-4.4z"/><path d="M225.3 648.45l2.2 4.1h-4.4z"/><path d="M240 657.95l2.2 4.1h-4.4z"/><path d="M207.9 671.95l2.2 4.1h-4.4z"/><path d="M224.3 676.35l2.2 4.1h-4.4z"/><path d="M204.8 693.65l2.2 4.1h-4.4z"/><path d="M209.7 694.05l2.2 4.1h-4.4z"/><path d="M142.8 728.45l2.2 4.1h-4.4z"/><path d="M147.2 730.25l2.2 4.1h-4.4z"/><path d="M149.6 718.35l2.2 4.1h-4.4z"/><path d="M155.5 720.45l2.2 4.1h-4.4z"/><path d="M160.8 724.85l2.2 4.1h-4.4z"/><path d="M179.5 727.05l2.2 4.1h-4.4z"/><path d="M202.7 724.15l2.2 4.1h-4.4z"/><path d="M204.5 727.75l2.2 4.1h-4.4z"/><path d="M228.8 710.45l2.2 4.1h-4.4z"/></g>
</g>
<rect x="33.3" y="626.7" width="236.5" height="174.6" fill="none" stroke="#000" stroke-width="1.0"/>
<path d="M49.6 801.3v3M101.6 801.3v3M153.6 801.3v3M205.6 801.3v3M257.6 801.3v3M33.3 789.6h-3M33.3 751.1h-3M33.3 712.6h-3M33.3 674.1h-3M33.3 635.6h-3" stroke="#000" stroke-width="1.0" fill="none"/>
<g><text x="49.6" y="813.6" text-anchor="middle">0.27</text><text x="101.6" y="813.6" text-anchor="middle">0.28</text><text x="153.6" y="813.6" text-anchor="middle">0.29</text><text x="205.6" y="813.6" text-anchor="middle">0.30</text><text x="257.6" y="813.6" text-anchor="middle">0.31</text><text x="27.3" y="792.6" text-anchor="end">0.27</text><text x="27.3" y="754.1" text-anchor="end">0.28</text><text x="27.3" y="715.6" text-anchor="end">0.29</text><text x="27.3" y="677.1" text-anchor="end">0.30</text><text x="27.3" y="638.6" text-anchor="end">0.31</text></g>
<rect x="37.2" y="630.7" width="71.3" height="27.3" rx="1.6" fill="#fff" fill-opacity="0.8" stroke="#d0d0d0" stroke-width="0.85"/>
<path d="M45.15 637.6h8.7" stroke="#1f77b4" stroke-opacity="0.6" stroke-width="1.4"/>
<path d="M49.5 633.25v8.7" stroke="#1f77b4" stroke-opacity="0.6" stroke-width="1.4"/>
<circle cx="49.5" cy="637.6" r="1.9" fill="#1f77b4"/>
<path d="M45.15 650.3h8.7" stroke="#ff7f0e" stroke-opacity="0.6" stroke-width="1.4"/>
<path d="M49.5 645.95v8.7" stroke="#ff7f0e" stroke-opacity="0.6" stroke-width="1.4"/>
<path d="M49.5 648.25l2.2 4.1h-4.4z" fill="#ff7f0e"/>
<text x="65.2" y="641" textLength="20.6" lengthAdjust="spacingAndGlyphs">BG14</text>
<text x="65.2" y="653.7" textLength="40.8" lengthAdjust="spacingAndGlyphs"><tspan font-style="italic">ϵ</tspan>-matching</text>
<text x="262" y="790.2" text-anchor="end" font-weight="bold" font-size="11.8">(d)</text>
<clipPath id="cpe"><rect x="308.1" y="4" width="241.5" height="175.7"/></clipPath>
<g clip-path="url(#cpe)">
<rect x="394.33" y="4" width="69.34" height="175.7" fill="#e6e6e6"/>
<path d="M308.1 92.1H549.6" stroke="#8a8a8a" stroke-opacity="0.8" stroke-width="1.35" stroke-dasharray="5.8 2.2" fill="none"/>
<path d="M429 179.7V4" stroke="#8a8a8a" stroke-opacity="0.8" stroke-width="1.35" stroke-dasharray="5.8 2.2" fill="none"/>
<path d="M319.2 178.7V174.7H342.1V171H364.1V166.9H382.6V163.6H391.3V159.5H395.5V156.35H396.15V153.2H396.8V148H398.4V144.5H399.8V141H401.2V137H404.5V133.6H408.4V129.8H408.95V126H409.5V122.2H410.05V118.4H410.6V114.85H411.3V111.3H412V107.75H412.7V104.2H413.4V100H415.2V96.23H415.8V92.47H416.4V88.7H417V84.83H417.73V80.97H418.47V77.1H419.2H422.1V65.8H424.3V62H424.45V58.2H424.6V54.5H426.5H428.3V50.9H428.45V47.3H428.6V43.42H428.83V39.55H429.05V35.67H429.27V31.8H429.5H431.4V28.2H436.8V24.55H437.25V20.9H437.7V16.8H439.5V13.6H441.8V9.1H444.1H454.5V5.5H540" stroke="#1f77b4" stroke-width="1.5" fill="none" stroke-linejoin="miter"/>
<path d="M370 179.1V174.5H379.1V171.4H381.4V167.3H385V163.6H395.9V159.75H396.6V155.9H397.3V152.7H398.2V149.5H400.5V146H400.97V142.5H401.43V139H401.9V133.6H404.6V129.97H405.7V126.33H406.8V122.7H407.9H411.7V119.07H412.43V115.43H413.17V111.8H413.9V108.25H414.7V104.7H415.5V102H418.8V100H419.9V96.62H420.07V93.25H420.25V89.88H420.43V86.5H420.6H425.4V83.05H425.75V79.6H426.1H428.3V75.98H428.36V72.36H428.42V68.74H428.48V65.12H428.54V61.5H428.6H430.1V56.7H430.8V53.8H431.55V50.9H432.3V47.25H433.2V43.6H434.1V39.55H435.25V35.5H436.4V30.95H437.3V26.4H438.2V20.9H438.6V16.8H440.5H447.3V12.7H455.5V9.1H460.5V5.5H489" stroke="#ff7f0e" stroke-width="1.5" fill="none" stroke-linejoin="miter"/>
</g>
<rect x="308.1" y="4" width="241.5" height="175.7" fill="none" stroke="#000" stroke-width="1.0"/>
<path d="M324.99 179.7v3M359.66 179.7v3M394.33 179.7v3M429 179.7v3M463.67 179.7v3M498.34 179.7v3M533.01 179.7v3M308.1 178.7h-3M308.1 144.06h-3M308.1 109.42h-3M308.1 74.78h-3M308.1 40.14h-3M308.1 5.5h-3" stroke="#000" stroke-width="1.0" fill="none"/>
<g><text x="324.99" y="192" text-anchor="middle" textLength="10.79" lengthAdjust="spacingAndGlyphs">−3</text><text x="359.66" y="192" text-anchor="middle" textLength="10.79" lengthAdjust="spacingAndGlyphs">−2</text><text x="394.33" y="192" text-anchor="middle" textLength="10.79" lengthAdjust="spacingAndGlyphs">−1</text><text x="429" y="192" text-anchor="middle">0</text><text x="463.67" y="192" text-anchor="middle">1</text><text x="498.34" y="192" text-anchor="middle">2</text><text x="533.01" y="192" text-anchor="middle">3</text><text x="302.1" y="181.7" text-anchor="end">0.0</text><text x="302.1" y="147.06" text-anchor="end">0.2</text><text x="302.1" y="112.42" text-anchor="end">0.4</text><text x="302.1" y="77.78" text-anchor="end">0.6</text><text x="302.1" y="43.14" text-anchor="end">0.8</text><text x="302.1" y="8.5" text-anchor="end">1.0</text></g>
<rect x="474.1" y="8.4" width="71.8" height="27.2" rx="1.6" fill="#fff" fill-opacity="0.8" stroke="#d0d0d0" stroke-width="0.85"/>
<path d="M476.7 15h19" stroke="#1f77b4" stroke-width="1.5"/>
<path d="M476.7 27.6h19" stroke="#ff7f0e" stroke-width="1.5"/>
<text x="502.1" y="18.4" textLength="20.6" lengthAdjust="spacingAndGlyphs">BG14</text>
<text x="502.1" y="31" textLength="40.8" lengthAdjust="spacingAndGlyphs"><tspan font-style="italic">ϵ</tspan>-matching</text>
<text x="540.6" y="167.8" text-anchor="end" font-weight="bold" font-size="11.8">(e)</text>
<clipPath id="cpf"><rect x="308.2" y="211" width="241.4" height="176.1"/></clipPath>
<g clip-path="url(#cpf)">
<rect x="411.5" y="211" width="35.6" height="176.1" fill="#e6e6e6"/>
<path d="M308.2 299.05H549.6" stroke="#8a8a8a" stroke-opacity="0.8" stroke-width="1.35" stroke-dasharray="5.8 2.2" fill="none"/>
<path d="M429.3 387.1V211" stroke="#8a8a8a" stroke-opacity="0.8" stroke-width="1.35" stroke-dasharray="5.8 2.2" fill="none"/>
<path d="M319 385.8V381.5H378V377.7H396.5V374.3H400.9V370.5H406.6V366.9V363.1H408.5V359.3H409.8V355.5H410.5V352.3H410.8V349.1H411.1V345.9H411.75V342.7H412.4V339.55H412.7V336.4H413V332.3H413.55V328.2H414.1H416.4V321.8H419.1V318.17H419.4V314.53H419.7V310.9H420H421.4V306.97H421.83V303.03H422.27V299.1H422.7V295.45H423.85V291.8H425H426.4V288.47H426.7V285.13H427V281.8H427.3V279.1H428.6V274.55H428.85V270H429.1V265.77H429.53V261.53H429.97V257.3H430.4V254.03H430.93V250.77H431.47V247.5H432V243.55H432.68V239.6H433.35V235.65H434.02V231.7H434.7H437.4V227.9H447.3V221.4H449.4V216.5H470.2V212.4H539.7" stroke="#1f77b4" stroke-width="1.5" fill="none" stroke-linejoin="miter"/>
<path d="M359.2 385.4H370.4V381.5H379.9V378.1H386.9V374.5H390.7V370.7H393.9V366.9H397.7V363.4H398.18V359.9H398.65V356.4H399.12V352.9H399.6H404.7V349.7H405.35V346.5H406V341.5H407.3V337.6H409.2V332.5H410.5V327.3H411.4V322.7H412.3V318.2H414.5V314.87H414.83V311.53H415.17V308.2H415.5H417.3V305H417.75V301.8H418.2V299.1H420V295H421.35V290.9H422.7V286.8H423.85V282.7H425V278.2H427.3H429.5V274.5V270.6H429.97V266.7H430.43V262.8H430.9H432.5V259.53H433.07V256.27H433.63V253H434.2V249.7H436.4H440.2V246.43H440.57V243.17H440.93V239.9H441.3V235.9H441.83V231.9H442.37V227.9H442.9H449.4V224.1H458.2V219.7H463.1V216.1H498.5V212.4" stroke="#ff7f0e" stroke-width="1.5" fill="none" stroke-linejoin="miter"/>
</g>
<rect x="308.2" y="211" width="241.4" height="176.1" fill="none" stroke="#000" stroke-width="1.0"/>
<path d="M322.5 387.1v3M358.1 387.1v3M393.7 387.1v3M429.3 387.1v3M464.9 387.1v3M500.5 387.1v3M536.1 387.1v3M308.2 385.8h-3M308.2 351.1h-3M308.2 316.4h-3M308.2 281.7h-3M308.2 247h-3M308.2 212.3h-3" stroke="#000" stroke-width="1.0" fill="none"/>
<g><text x="322.5" y="399.4" text-anchor="middle" textLength="10.79" lengthAdjust="spacingAndGlyphs">−6</text><text x="358.1" y="399.4" text-anchor="middle" textLength="10.79" lengthAdjust="spacingAndGlyphs">−4</text><text x="393.7" y="399.4" text-anchor="middle" textLength="10.79" lengthAdjust="spacingAndGlyphs">−2</text><text x="429.3" y="399.4" text-anchor="middle">0</text><text x="464.9" y="399.4" text-anchor="middle">2</text><text x="500.5" y="399.4" text-anchor="middle">4</text><text x="536.1" y="399.4" text-anchor="middle">6</text><text x="302.2" y="388.8" text-anchor="end">0.0</text><text x="302.2" y="354.1" text-anchor="end">0.2</text><text x="302.2" y="319.4" text-anchor="end">0.4</text><text x="302.2" y="284.7" text-anchor="end">0.6</text><text x="302.2" y="250" text-anchor="end">0.8</text><text x="302.2" y="215.3" text-anchor="end">1.0</text></g>
<rect x="312.3" y="215.4" width="71.8" height="27.2" rx="1.6" fill="#fff" fill-opacity="0.8" stroke="#d0d0d0" stroke-width="0.85"/>
<path d="M314.9 222h19" stroke="#1f77b4" stroke-width="1.5"/>
<path d="M314.9 234.6h19" stroke="#ff7f0e" stroke-width="1.5"/>
<text x="340.3" y="225.4" textLength="20.6" lengthAdjust="spacingAndGlyphs">BG14</text>
<text x="340.3" y="238" textLength="40.8" lengthAdjust="spacingAndGlyphs"><tspan font-style="italic">ϵ</tspan>-matching</text>
<text x="540.6" y="375.2" text-anchor="end" font-weight="bold" font-size="11.8">(f)</text>
<clipPath id="cpg"><rect x="308" y="418" width="241.6" height="175.9"/></clipPath>
<g clip-path="url(#cpg)">
<rect x="386.9" y="418" width="84.2" height="175.9" fill="#e6e6e6"/>
<path d="M308 506H549.6" stroke="#8a8a8a" stroke-opacity="0.8" stroke-width="1.35" stroke-dasharray="5.8 2.2" fill="none"/>
<path d="M429 593.9V418" stroke="#8a8a8a" stroke-opacity="0.8" stroke-width="1.35" stroke-dasharray="5.8 2.2" fill="none"/>
<path d="M318.3 592.6H377.6V588.7H387.8V584.5H406V580H408.2V574.5H410V569.1H411.5V565.5H413.6V560.9H415.5V557.7H416.2V554.5H416.9V551.35H417.55V548.2H418.2V545H420.2V541.7H420.63V538.4H421.07V535.1H421.5V531.7H421.93V528.3H422.37V524.9H422.8V521.53H423.2V518.17H423.6V514.8H424V510.83H424.43V506.87H424.87V502.9H425.3H427.8V498.97H428.23V495.03H428.67V491.1H429.1V486.45H429.75V481.8H430.4V479.7H432.1V475.85H432.65V472H433.2V468.15H434.3V464.3H435.4V461.05H436.75V457.8H438.1V454.17H439V450.53H439.9V446.9H440.8V442.55H442.15V438.2H443.5V434.4H445.2V432.7H447.9V428.4H449.5V422.9H450.6H539.1V419.2" stroke="#1f77b4" stroke-width="1.5" fill="none" stroke-linejoin="miter"/>
<path d="M381.3 592.6V588.7H406V577.3H408.2V574.1H409.1V570.9H410V566.4H412.7V563.6H414.5V561.8H416.4V558.65H417.3V555.5H418.2V551.4H419.1V547.3H420V545H421.1V541.3H421.7V537.6H422.3H424.5V533.88H424.74V530.16H424.98V526.44H425.22V522.72H425.46V519H425.7V513.9H427.4V510.3H428.25V506.7H429.1V502.72H429.36V498.74H429.62V494.76H429.88V490.78H430.14V486.8H430.4V484.3H432.5V480.9H433.8V477.2H434.13V473.5H434.47V469.8H434.8V466.55H435.9V463.3H437H442.4V459.4H444.1V455.85H444.65V452.3H445.2V449.03H445.37V445.77H445.53V442.5H445.7V440.9H448.4V437.6H450.1V434.4H451.7V430.5H452.8H461V426.7H462.1V423.5H463.2H470.3V419.2H476.3" stroke="#ff7f0e" stroke-width="1.5" fill="none" stroke-linejoin="miter"/>
</g>
<rect x="308" y="418" width="241.6" height="175.9" fill="none" stroke="#000" stroke-width="1.0"/>
<path d="M344.8 593.9v3M386.9 593.9v3M429 593.9v3M471.1 593.9v3M513.2 593.9v3M308 592.6h-3M308 557.96h-3M308 523.32h-3M308 488.68h-3M308 454.04h-3M308 419.4h-3" stroke="#000" stroke-width="1.0" fill="none"/>
<g><text x="344.8" y="606.2" text-anchor="middle" textLength="10.79" lengthAdjust="spacingAndGlyphs">−2</text><text x="386.9" y="606.2" text-anchor="middle" textLength="10.79" lengthAdjust="spacingAndGlyphs">−1</text><text x="429" y="606.2" text-anchor="middle">0</text><text x="471.1" y="606.2" text-anchor="middle">1</text><text x="513.2" y="606.2" text-anchor="middle">2</text><text x="302" y="595.6" text-anchor="end">0.0</text><text x="302" y="560.96" text-anchor="end">0.2</text><text x="302" y="526.32" text-anchor="end">0.4</text><text x="302" y="491.68" text-anchor="end">0.6</text><text x="302" y="457.04" text-anchor="end">0.8</text><text x="302" y="422.4" text-anchor="end">1.0</text></g>
<rect x="312.1" y="422.4" width="71.8" height="27.2" rx="1.6" fill="#fff" fill-opacity="0.8" stroke="#d0d0d0" stroke-width="0.85"/>
<path d="M314.7 429h19" stroke="#1f77b4" stroke-width="1.5"/>
<path d="M314.7 441.6h19" stroke="#ff7f0e" stroke-width="1.5"/>
<text x="340.1" y="432.4" textLength="20.6" lengthAdjust="spacingAndGlyphs">BG14</text>
<text x="340.1" y="445" textLength="40.8" lengthAdjust="spacingAndGlyphs"><tspan font-style="italic">ϵ</tspan>-matching</text>
<text x="540.6" y="582" text-anchor="end" font-weight="bold" font-size="11.8">(g)</text>
<clipPath id="cph"><rect x="306.6" y="625.2" width="241.6" height="176.2"/></clipPath>
<g clip-path="url(#cph)">
<rect x="398.7" y="625.2" width="57.2" height="176.2" fill="#e6e6e6"/>
<path d="M306.6 713.35H548.2" stroke="#8a8a8a" stroke-opacity="0.8" stroke-width="1.35" stroke-dasharray="5.8 2.2" fill="none"/>
<path d="M427.3 801.4V625.2" stroke="#8a8a8a" stroke-opacity="0.8" stroke-width="1.35" stroke-dasharray="5.8 2.2" fill="none"/>
<path d="M384.2 800.1V795.8H408.2V791.5V788.2H410.8V784.35H413.85V780.5H416.9V775.1H419.1V771.8H421.3V767.5H423.5V762H425V756.5H426.1V755H426.8V750.88H426.98V746.76H427.16V742.64H427.34V738.52H427.52V734.4H427.7V731.1H428V727.8H428.3V724.5H428.6H434V720H435V716.8H435.45V713.6H435.9V709.05H436.35V704.5H436.8V701.8H438.1V699.1H439.5V694.5H440.9V689.1H442.2V685.2H442.62V681.3H443.05V677.4H443.47V673.5H443.9V670.9H445.2V668.4H446.5H451.5V663.9H452.8V660.7H454.1H457.3V653.3H459.8V649.3H463.5V645.4H475.8V641.6H478.7V637.9H484.9V634.4H487.8V630.3H536V626.6" stroke="#1f77b4" stroke-width="1.5" fill="none" stroke-linejoin="miter"/>
<path d="M317 799.7H382.4V795.8H394.7V791.9H406V788.2V784.9H410.4V781.1H412.55V777.3H414.7V772.9H416.9V769.6H418.4V766.35H419.1V763.1H419.8V759.8H421.3V756.5H423.5V752.2H425V748.1H425.9V745.3H427.2V741.7H427.9V738.1H428.6V734.45H429.05V730.8H429.5H431.3V727.2H431.75V723.6H432.2V718.1H433.1V712.7H434V708.6H434.25V704.5H434.5V700.9H435.9V697.57H436.33V694.23H436.77V690.9H437.2V690H438.2V686.2H438.8V681.97H439.67V677.73H440.53V673.5H441.4V668.4H442.6V664.5H445.2V663.3H447.7V660.1H448.35V656.9H449V653.7H449.95V650.5H450.9V646.05H451.55V641.6H452.2H467.5V637.6H470.7V634H479.3V630.3H537.9V626.4" stroke="#ff7f0e" stroke-width="1.5" fill="none" stroke-linejoin="miter"/>
</g>
<rect x="306.6" y="625.2" width="241.6" height="176.2" fill="none" stroke="#000" stroke-width="1.0"/>
<path d="M312.9 801.4v3M341.5 801.4v3M370.1 801.4v3M398.7 801.4v3M427.3 801.4v3M455.9 801.4v3M484.5 801.4v3M513.1 801.4v3M541.7 801.4v3M306.6 800.1h-3M306.6 765.4h-3M306.6 730.7h-3M306.6 696h-3M306.6 661.3h-3M306.6 626.6h-3" stroke="#000" stroke-width="1.0" fill="none"/>
<g><text x="312.9" y="813.7" text-anchor="middle" textLength="10.79" lengthAdjust="spacingAndGlyphs">−4</text><text x="341.5" y="813.7" text-anchor="middle" textLength="10.79" lengthAdjust="spacingAndGlyphs">−3</text><text x="370.1" y="813.7" text-anchor="middle" textLength="10.79" lengthAdjust="spacingAndGlyphs">−2</text><text x="398.7" y="813.7" text-anchor="middle" textLength="10.79" lengthAdjust="spacingAndGlyphs">−1</text><text x="427.3" y="813.7" text-anchor="middle">0</text><text x="455.9" y="813.7" text-anchor="middle">1</text><text x="484.5" y="813.7" text-anchor="middle">2</text><text x="513.1" y="813.7" text-anchor="middle">3</text><text x="541.7" y="813.7" text-anchor="middle">4</text><text x="300.6" y="803.1" text-anchor="end">0.0</text><text x="300.6" y="768.4" text-anchor="end">0.2</text><text x="300.6" y="733.7" text-anchor="end">0.4</text><text x="300.6" y="699" text-anchor="end">0.6</text><text x="300.6" y="664.3" text-anchor="end">0.8</text><text x="300.6" y="629.6" text-anchor="end">1.0</text></g>
<rect x="310.7" y="629.6" width="71.8" height="27.2" rx="1.6" fill="#fff" fill-opacity="0.8" stroke="#d0d0d0" stroke-width="0.85"/>
<path d="M313.3 636.2h19" stroke="#1f77b4" stroke-width="1.5"/>
<path d="M313.3 648.8h19" stroke="#ff7f0e" stroke-width="1.5"/>
<text x="338.7" y="639.6" textLength="20.6" lengthAdjust="spacingAndGlyphs">BG14</text>
<text x="338.7" y="652.2" textLength="40.8" lengthAdjust="spacingAndGlyphs"><tspan font-style="italic">ϵ</tspan>-matching</text>
<text x="539.2" y="789.5" text-anchor="end" font-weight="bold" font-size="11.8">(h)</text>
<text x="113.3" y="203.8" textLength="20.7" lengthAdjust="spacingAndGlyphs" font-style="italic">M/M</text>
<circle cx="136" cy="203" r="2" fill="none" stroke="#000" stroke-width="0.6"/><circle cx="136" cy="203" r="0.5" fill="#000"/>
<text x="143.1" y="203.8" textLength="46" lengthAdjust="spacingAndGlyphs">(First-order)</text>
<text x="115.1" y="410.4" textLength="16.6" lengthAdjust="spacingAndGlyphs" font-style="italic">R/R</text>
<circle cx="133.6" cy="409.6" r="2" fill="none" stroke="#000" stroke-width="0.6"/><circle cx="133.6" cy="409.6" r="0.5" fill="#000"/>
<text x="140.9" y="410.4" textLength="46" lengthAdjust="spacingAndGlyphs">(First-order)</text>
<text x="108.7" y="617.5" textLength="82.1" lengthAdjust="spacingAndGlyphs">Age/Gyr (First-order)</text>
<text x="123.2" y="824.5" textLength="4.6" lengthAdjust="spacingAndGlyphs" font-style="italic">Y</text>
<text x="127.6" y="826.2" textLength="3.5" lengthAdjust="spacingAndGlyphs" font-size="6.2">0</text>
<text x="134.9" y="824.5" textLength="44.7" lengthAdjust="spacingAndGlyphs">(First-order)</text>
<text transform="translate(8.7 145.3) rotate(-90)" textLength="20.7" lengthAdjust="spacingAndGlyphs" font-style="italic">M/M</text>
<circle cx="8" cy="122.6" r="2" fill="none" stroke="#000" stroke-width="0.6"/><circle cx="8" cy="122.6" r="0.5" fill="#000"/>
<text transform="translate(8.7 115.5) rotate(-90)" textLength="76.5" lengthAdjust="spacingAndGlyphs">(Full mode coupling)</text>
<text transform="translate(7.8 350.1) rotate(-90)" textLength="16.6" lengthAdjust="spacingAndGlyphs" font-style="italic">R/R</text>
<circle cx="7.1" cy="331.6" r="2" fill="none" stroke="#000" stroke-width="0.6"/><circle cx="7.1" cy="331.6" r="0.5" fill="#000"/>
<text transform="translate(7.8 324.3) rotate(-90)" textLength="76.5" lengthAdjust="spacingAndGlyphs">(Full mode coupling)</text>
<text transform="translate(8.5 562.7) rotate(-90)" textLength="113.6" lengthAdjust="spacingAndGlyphs">Age/Gyr (Full mode coupling)</text>
<text transform="translate(6.7 758.3) rotate(-90)" textLength="4.6" lengthAdjust="spacingAndGlyphs" font-style="italic">Y</text>
<text transform="translate(8.4 753.7) rotate(-90)" textLength="3.5" lengthAdjust="spacingAndGlyphs" font-size="6.2">0</text>
<text transform="translate(6.7 746.5) rotate(-90)" textLength="75.8" lengthAdjust="spacingAndGlyphs">(Full mode coupling)</text>
<text x="354.1" y="203.9" textLength="4.1" lengthAdjust="spacingAndGlyphs" font-style="italic">z</text>
<text x="358.6" y="205.3" textLength="5.9" lengthAdjust="spacingAndGlyphs" font-style="italic" font-size="6.2">M</text>
<text x="369.1" y="203.9" textLength="134.4" lengthAdjust="spacingAndGlyphs">(First-order vs. Full mode coupling)</text>
<text x="355.5" y="410.9" textLength="4.1" lengthAdjust="spacingAndGlyphs" font-style="italic">z</text>
<text x="359.9" y="412.3" textLength="4.8" lengthAdjust="spacingAndGlyphs" font-style="italic" font-size="6.2">R</text>
<text x="368.2" y="410.9" textLength="134.4" lengthAdjust="spacingAndGlyphs">(First-order vs. Full mode coupling)</text>
<text x="352.5" y="617.7" textLength="4.1" lengthAdjust="spacingAndGlyphs" font-style="italic">z</text>
<text x="355.9" y="619.1" textLength="11.4" lengthAdjust="spacingAndGlyphs" font-size="6.2">Age</text>
<text x="370.9" y="617.7" textLength="134.4" lengthAdjust="spacingAndGlyphs">(First-order vs. Full mode coupling)</text>
<text x="353" y="825.1" textLength="4.1" lengthAdjust="spacingAndGlyphs" font-style="italic">z</text>
<text x="357.3" y="826.5" textLength="4.3" lengthAdjust="spacingAndGlyphs" font-style="italic" font-size="6.2">Y</text>
<text x="361.3" y="827.6" textLength="2.6" lengthAdjust="spacingAndGlyphs" font-size="4.6">0</text>
<text x="368.2" y="825.1" textLength="134.4" lengthAdjust="spacingAndGlyphs">(First-order vs. Full mode coupling)</text>
<text transform="translate(285.8 119.95) rotate(-90)" textLength="56.2" lengthAdjust="spacingAndGlyphs">Empirical CDF</text>
<text transform="translate(285.9 327.15) rotate(-90)" textLength="56.2" lengthAdjust="spacingAndGlyphs">Empirical CDF</text>
<text transform="translate(285.7 534.05) rotate(-90)" textLength="56.2" lengthAdjust="spacingAndGlyphs">Empirical CDF</text>
<text transform="translate(284.3 741.4) rotate(-90)" textLength="56.2" lengthAdjust="spacingAndGlyphs">Empirical CDF</text>
</svg></body></html>
